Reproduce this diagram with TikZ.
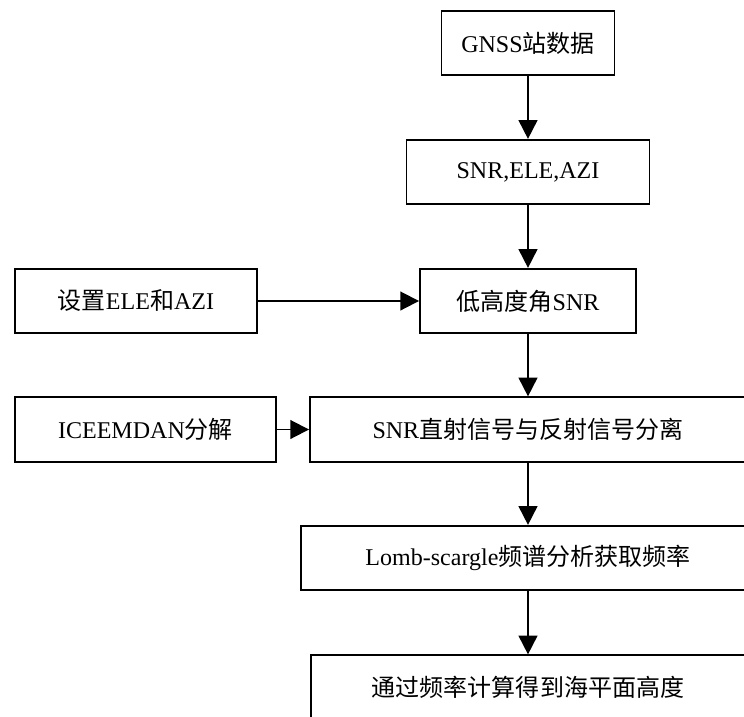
\documentclass[tikz,border=0pt]{standalone}
\usepackage{fontspec}
\setmainfont{Liberation Serif}
\newfontfamily\cjk{Noto Sans CJK SC}
\usepackage{tikz}
\usetikzlibrary{arrows.meta, positioning}

\begin{document}
\begin{tikzpicture}[x=0.03cm, y=-0.03cm,
        box/.style={draw, line width=1.6pt, minimum height=1.93cm, inner sep=0pt, font=\fontsize{20.5}{24}\selectfont},
        arr/.style={line width=1.6pt, -{Triangle[length=5.6mm, width=5.6mm]}}]
    \useasboundingbox (0,0) rectangle (744,716);

    % main column
    \node[box, minimum width=5.19cm] (gnss) at (528,43) {GNSS{\cjk 站数据}};
    \node[box, minimum width=7.29cm] (obs) at (528,172) {SNR,ELE,AZI};
    \node[box, minimum width=6.48cm] (low) at (528,301) {{\cjk 低高度角}SNR};
    \node[box, minimum width=13.08cm] (sep) at (528,429.5) {SNR{\cjk 直射信号与反射信号分离}};
    \node[box, minimum width=13.62cm] (lomb) at (528,558) {Lomb-scargle{\cjk 频谱分析获取频率}};
    \node[box, minimum width=13.02cm] (sea) at (528,687.5) {\cjk 通过频率计算得到海平面高度};

    % side inputs
    \node[box, minimum width=7.26cm] (setting) at (136,301) {{\cjk 设置}ELE{\cjk 和}AZI};
    \node[box, minimum width=7.83cm] (iceemdan) at (145.5,429.5) {ICEEMDAN{\cjk 分解}};

    \draw[arr] (gnss) -- (obs);
    \draw[arr] (obs) -- (low);
    \draw[arr] (low) -- (sep);
    \draw[arr] (sep) -- (lomb);
    \draw[arr] (lomb) -- (sea);
    \draw[arr] (setting) -- (low);
    \draw[arr] (iceemdan) -- (sep);
\end{tikzpicture}
\end{document}
